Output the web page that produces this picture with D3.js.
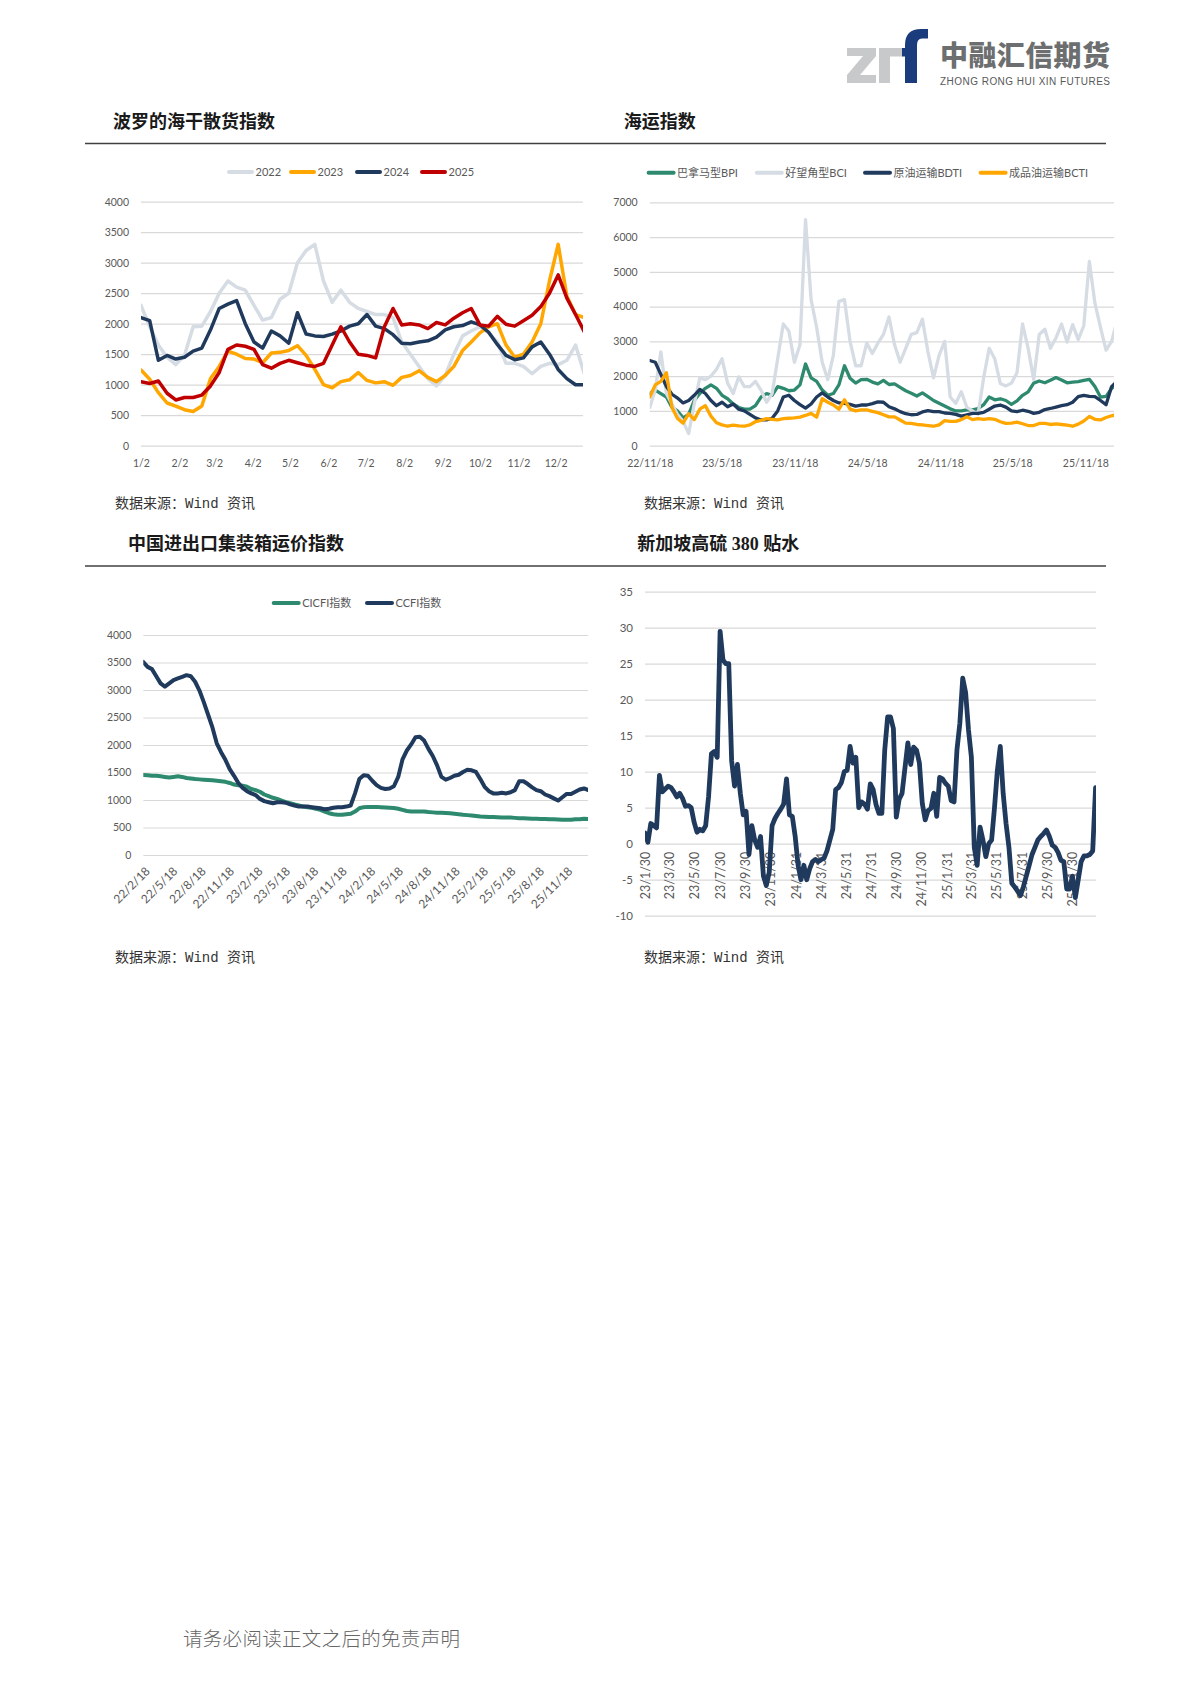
<!DOCTYPE html>
<html>
<head>
<meta charset="utf-8">
<script src="https://cdn.jsdelivr.net/npm/d3@7"></script>
<style>
  html, body { margin: 0; padding: 0; background: #fff; }
  svg { display: block; }
</style>
</head>
<body>
<svg id="page" width="1190" height="1683"></svg>
<script>
// ---------- 波罗的海干散货指数 (weekly readings from 1/2) ----------
var bdiBase = "2023-01-02";
var bdiMonths = ["1/2","2/2","3/2","4/2","5/2","6/2","7/2","8/2","9/2","10/2","11/2","12/2"];
var bdiYears = ["2022","2023","2024","2025"];
var bdi2022 = [2300,1950,1650,1450,1330,1480,1950,1960,2200,2500,2700,2600,2550,2300,2060,2100,2400,2500,3000,3200,
  3300,2700,2350,2550,2350,2250,2200,2150,2150,2100,1700,1500,1300,1100,980,1150,1500,1800,1880,1950,
  1850,1700,1350,1350,1300,1180,1300,1350,1330,1400,1650,1180];
var bdi2023 = [1240,1090,870,700,650,590,560,650,1100,1300,1550,1500,1430,1420,1360,1520,1530,1560,1640,1480,
  1250,1000,950,1050,1080,1200,1070,1030,1050,990,1120,1150,1230,1120,1050,1150,1300,1560,1700,1850,
  1950,2000,1650,1450,1500,1700,2000,2700,3300,2450,2150,2100];
var bdi2024 = [2100,2050,1400,1480,1420,1450,1550,1600,1900,2250,2320,2380,2000,1700,1600,1880,1800,1680,2180,1830,
  1800,1790,1830,1880,1960,2000,2150,1960,1920,1820,1680,1670,1700,1720,1780,1900,1950,1970,2030,1980,
  1860,1660,1480,1410,1440,1620,1700,1500,1250,1100,1000,1000];
var bdi2025 = [1050,1020,1060,860,750,790,790,830,980,1200,1580,1650,1630,1580,1330,1270,1350,1400,1360,1320,
  1300,1350,1650,1950,1700,1500,1480,1440,1950,2250,1980,2000,1980,1920,2020,1980,2090,2180,2250,1980,
  1960,2120,1990,1960,2050,2140,2280,2500,2800,2420,2150,1870];

// ---------- 海运指数 (readings every 14 days from 22/11/18) ----------
var shipBase = "2022-11-18";
var shipTicks = ["22/11/18","23/5/18","23/11/18","24/5/18","24/11/18","25/5/18","25/11/18"];
var shipNames = ["巴拿马型BPI","好望角型BCI","原油运输BDTI","成品油运输BCTI"];
var bpi = [1500,1600,1500,1400,1100,1000,800,900,1300,1500,1650,1750,1650,1450,1350,1200,1100,1050,1050,1150,
  1400,1500,1450,1700,1650,1580,1600,1750,2350,1950,1850,1600,1450,1500,
  1750,2300,1940,1800,1900,1910,1830,1780,1880,1760,1780,1680,1580,1510,1430,1520,1410,1300,1220,1140,
  1060,1000,1000,1030,1030,1065,1180,1400,1320,1350,1300,1190,1290,1450,1550,1800,1860,1810,1880,1960,
  1890,1810,1830,1840,1880,1910,1700,1400,1420,1650,1750];
var bci = [1100,1600,2700,1500,1200,900,700,350,1200,1950,1900,2000,2200,2500,1800,1500,1980,1700,1700,1850,
  1600,1250,1500,2500,3500,3300,2400,2900,6500,4200,3400,2400,1900,2600,
  4150,4200,3000,2300,2300,2950,2650,2950,3200,3700,2900,2400,2800,3200,3250,3640,2700,1950,2600,3000,
  1400,1220,1550,1100,1000,900,1950,2800,2500,1790,1720,1800,2100,3500,2800,1900,3200,3350,2800,3100,
  3500,2980,3480,3050,3450,5300,4100,3400,2750,3000,3600];
var bdti = [2450,2400,2050,1700,1480,1370,1230,1300,1450,1620,1500,1300,1150,1250,1120,1200,1050,1000,900,800,
  740,740,790,1000,1400,1450,1300,1180,1080,1200,1400,1520,1400,1300,
  1230,1220,1190,1140,1170,1170,1210,1260,1250,1120,1060,980,920,890,900,970,1010,980,980,940,
  930,900,850,890,930,930,960,1050,1140,1170,1110,1000,980,1020,990,930,960,1040,1070,1110,
  1150,1180,1250,1410,1450,1420,1410,1300,1180,1700,1850];
var bcti = [1400,1750,1850,2100,1100,780,650,920,750,1050,1150,850,660,600,560,590,570,560,600,690,
  730,780,760,740,780,790,800,820,870,930,820,1350,1250,1170,
  1050,1320,1050,1000,1030,1030,990,950,890,830,830,740,650,640,610,600,580,560,600,720,
  700,700,750,830,750,780,760,780,760,690,640,650,680,630,580,580,640,640,610,630,
  610,590,560,620,710,840,760,740,810,860,900];

// ---------- 中国进出口集装箱运价指数 (readings every 14 days from 22/2/18) ----------
var boxBase = "2022-02-18";
var boxTicks = ["22/2/18","22/5/18","22/8/18","22/11/18","23/2/18","23/5/18","23/8/18","23/11/18",
  "24/2/18","24/5/18","24/8/18","24/11/18","25/2/18","25/5/18","25/8/18","25/11/18"];
var boxNames = ["CICFI指数","CCFI指数"];
var cicfi = [1455,1450,1440,1440,1430,1420,1410,1420,1430,1420,1400,1390,1380,1375,1370,1365,1360,1350,1340,1330,
  1310,1280,1270,1260,1240,1200,1180,1150,1100,1070,1040,1020,990,960,940,920,900,880,870,860,
  840,820,790,760,740,730,730,740,750,790,850,870,875,875,875,870,865,860,855,840,
  820,800,790,790,790,790,780,775,770,770,765,760,750,740,730,725,720,710,700,695,
  690,690,685,680,680,680,675,670,670,665,660,660,655,655,650,650,645,640,640,640,
  650,650,660,655];
var ccfi = [3510,3420,3380,3250,3120,3060,3120,3180,3210,3240,3270,3250,3150,2990,2780,2550,2320,2030,1870,1730,
  1560,1440,1310,1220,1160,1120,1090,1020,980,960,940,960,960,950,920,900,880,880,880,870,
  860,850,830,840,860,870,870,880,900,1120,1380,1450,1440,1350,1270,1220,1200,1210,1250,1420,
  1740,1900,2010,2140,2150,2080,1930,1800,1630,1420,1370,1400,1440,1460,1510,1550,1540,1510,1380,1240,
  1160,1120,1120,1130,1120,1140,1180,1340,1340,1290,1230,1180,1160,1100,1070,1030,990,1050,1110,1110,
  1150,1190,1210,1180];

// ---------- 新加坡高硫 380 贴水 (weekly readings from 23/1/30) ----------
var hsfoBase = "2023-01-30";
var hsfoTicks = ["23/1/30","23/3/30","23/5/30","23/7/30","23/9/30","23/11/30","24/1/31","24/3/31","24/5/31",
  "24/7/31","24/9/30","24/11/30","25/1/31","25/3/31","25/5/31","25/7/31","25/9/30","25/11/30"];
var hsfo = [1.5,0.2,2.8,2.5,2.2,9.5,7.2,7.6,8.0,7.8,
  7.2,6.5,7.0,6.3,5.2,5.3,5.0,3.0,1.6,2.0,
  1.8,2.5,6.5,12.5,12.8,12.0,29.5,25.5,25.0,25.0,
  11.5,8.0,11.0,7.0,4.0,4.5,-1.5,2.5,0.5,-0.5,
  1.0,-4.5,-5.8,-4.0,2.5,3.5,4.2,4.8,5.5,9.0,
  4.0,3.8,1.0,-3.0,-5.0,-3.0,-5.0,-3.5,-2.5,-2.2,
  -2.5,-2.2,-2.0,-1.0,0.5,2.0,7.5,7.8,8.5,10.0,
  10.2,13.5,11.2,12.0,5.0,5.8,5.5,4.8,8.3,7.5,
  5.4,4.2,4.2,13.0,17.6,17.6,16.0,3.7,6.2,7.0,
  10.5,14.0,11.0,13.4,13.0,11.2,5.6,3.3,4.6,4.9,
  7.0,3.8,9.2,9.0,8.4,8.0,6.0,5.8,13.0,16.7,
  23.0,21.0,15.8,12.0,-0.5,-3.0,2.3,0.5,-1.8,0.0,
  0.5,5.0,10.2,13.5,7.0,2.8,-0.5,-5.5,-6.0,-6.6,
  -7.2,-6.0,-4.5,-3.0,-1.5,-0.5,0.5,1.0,1.4,1.9,
  1.0,-0.2,-0.5,-1.2,-2.3,-2.5,-6.3,-6.3,-4.5,-7.5,
  -5.0,-2.5,-1.7,-1.7,-1.5,-1.0,7.8];

// ---------- helpers ----------
var svg = d3.select("#page");
var AXIS_FONT = "Lato, 'Noto Sans CJK SC', sans-serif";
var CJK_FONT = "'Liberation Serif', 'Noto Sans CJK SC', serif";
var GRID = "#d9d9d9", LABEL = "#595959";
var NAVY = "#1f3a5c", ORANGE = "#ffa600", GREY = "#d6dce4", RED = "#c00000", GREEN = "#2e8a6e";
var parseDay = d3.timeParse("%Y-%m-%d");

function fromLabel(s) {
  var p = s.split("/");
  return new Date(2000 + +p[0], +p[1] - 1, +p[2]);
}
function stepDates(base, n, step) {
  var start = parseDay(base), out = [];
  for (var i = 0; i < n; i++) out.push(d3.timeDay.offset(start, i * step));
  return out;
}
function styleAxis(a, size) {
  a.select(".domain").remove();
  a.attr("font-family", AXIS_FONT).attr("font-size", size);
  a.selectAll(".tick line").attr("stroke", GRID).attr("stroke-width", 1.2);
  a.selectAll(".tick text").attr("fill", LABEL);
}
function yGrid(g, x, y, ticks, size) {
  g.append("g")
    .attr("transform", "translate(" + x.range()[0] + ",0)")
    .call(d3.axisLeft(y).tickValues(ticks).tickFormat(function(d) { return String(d); })
      .tickSize(-(x.range()[1] - x.range()[0])).tickPadding(12))
    .call(styleAxis, size || 10.5);
}
function addLines(g, id, x, y, dates, series) {
  g.append("clipPath").attr("id", id).append("rect")
    .attr("x", x.range()[0]).attr("y", y.range()[1] - 15)
    .attr("width", x.range()[1] - x.range()[0])
    .attr("height", y.range()[0] - y.range()[1] + 30);
  series.forEach(function(s) {
    var line = d3.line()
      .x(function(d, i) { return x(dates[i]); })
      .y(function(d) { return y(d); });
    g.append("path").datum(s.values)
      .attr("clip-path", "url(#" + id + ")")
      .attr("fill", "none")
      .attr("stroke", s.color)
      .attr("stroke-width", s.width)
      .attr("stroke-linejoin", "round")
      .attr("stroke-linecap", "round")
      .attr("d", line);
  });
}
function legend(g, items, xs, yy, len) {
  items.forEach(function(s, i) {
    g.append("line")
      .attr("x1", xs[i] + 2).attr("x2", xs[i] + len - 2)
      .attr("y1", yy).attr("y2", yy)
      .attr("stroke", s.color).attr("stroke-width", 4).attr("stroke-linecap", "round");
    g.append("text")
      .attr("x", xs[i] + len + 1.5).attr("y", yy).attr("dy", "0.35em")
      .attr("font-family", AXIS_FONT).attr("font-size", 11).attr("fill", LABEL)
      .text(s.name);
  });
}
function title(txt, x, yy) {
  svg.append("text").attr("x", x).attr("y", yy)
    .attr("font-family", CJK_FONT).attr("font-size", 18).attr("font-weight", 700)
    .attr("fill", "#1a1a1a").text(txt);
}
function rule(x1, x2, yy) {
  svg.append("line").attr("x1", x1).attr("x2", x2).attr("y1", yy).attr("y2", yy)
    .attr("stroke", "#404040").attr("stroke-width", 1.3);
}
function source(x, yy) {
  svg.append("text").attr("x", x).attr("y", yy)
    .attr("font-family", "'Liberation Mono', 'Noto Sans CJK SC', monospace")
    .attr("font-size", 14).attr("fill", "#333").text("数据来源：Wind 资讯");
}

svg.append("rect").attr("width", 1190).attr("height", 1683).attr("fill", "#fff");

// ---------- logo ----------
var logo = svg.append("g");
logo.append("path").attr("fill", "#c8c9cb")
  .attr("d", "M847,48 H876 V56 L860,75 H876 V83 H847 V75 L863,56 H847 Z");
logo.append("path").attr("fill", "#c8c9cb")
  .attr("d", "M879,48 H890 V83 H879 Z M890,48 H902 V56.5 H890 Z");
logo.append("path").attr("fill", "#1a3c7c")
  .attr("d", "M905,83 V45 Q905,29 921,29 H928 V38.5 H922 Q917,38.5 917,45 V83 Z M902,48 H905 V56.5 H902 Z");
logo.append("text").attr("x", 940).attr("y", 65.5)
  .attr("font-family", "'Noto Sans CJK SC', sans-serif").attr("font-size", 28).attr("font-weight", 900)
  .attr("fill", "#6d6e70").attr("textLength", 170).text("中融汇信期货");
logo.append("text").attr("x", 940).attr("y", 85)
  .attr("font-family", "'Liberation Sans', Arial, sans-serif").attr("font-size", 10)
  .attr("fill", "#595959").attr("textLength", 170).text("ZHONG RONG HUI XIN FUTURES");

// ---------- titles, rules, sources ----------
title("波罗的海干散货指数", 113, 127.6);
title("海运指数", 623.7, 127.6);
title("中国进出口集装箱运价指数", 128, 549.7);
title("新加坡高硫 380 贴水", 637.2, 549.7);
rule(85, 599, 143.5);
rule(599, 1106, 143.5);
rule(85, 599, 566);
rule(599, 1106, 566);
source(115, 508.3);
source(644, 508.3);
source(115, 962.3);
source(644, 962.3);

// ---------- chart 1: BDI by year ----------
(function() {
  var g = svg.append("g");
  var x = d3.scaleTime().domain([parseDay("2023-01-02"), parseDay("2023-12-24")]).range([141, 583]);
  var y = d3.scaleLinear().domain([0, 4000]).range([445.7, 201.7]);
  var dates = stepDates(bdiBase, bdi2022.length, 7);
  var monthDates = bdiMonths.map(function(s) {
    var p = s.split("/"); return new Date(2023, +p[0] - 1, +p[1]);
  });
  yGrid(g, x, y, d3.range(0, 4001, 500));
  g.append("g").attr("transform", "translate(0," + y(0) + ")")
    .call(d3.axisBottom(x).tickValues(monthDates)
      .tickFormat(function(d, i) { return bdiMonths[i]; }).tickSize(0).tickPadding(13.5))
    .call(styleAxis, 10.5);
  var series = [
    {name: bdiYears[0], values: bdi2022, color: GREY, width: 3.5},
    {name: bdiYears[1], values: bdi2023, color: ORANGE, width: 3.5},
    {name: bdiYears[2], values: bdi2024, color: NAVY, width: 3.5},
    {name: bdiYears[3], values: bdi2025, color: RED, width: 3.5}
  ];
  addLines(g, "clip1", x, y, dates, series);
  legend(g, series, [227, 289, 355, 420], 172, 27);
})();

// ---------- chart 2: shipping indices ----------
(function() {
  var g = svg.append("g");
  var x = d3.scaleTime().domain([parseDay("2022-11-18"), parseDay("2026-01-29")]).range([649.7, 1114]);
  var y = d3.scaleLinear().domain([0, 7000]).range([445.7, 202.3]);
  var dates = stepDates(shipBase, bpi.length, 14);
  yGrid(g, x, y, d3.range(0, 7001, 1000));
  g.append("g").attr("transform", "translate(0," + y(0) + ")")
    .call(d3.axisBottom(x).tickValues(shipTicks.map(fromLabel))
      .tickFormat(function(d, i) { return shipTicks[i]; }).tickSize(0).tickPadding(13.5))
    .call(styleAxis, 10.5);
  var series = [
    {name: shipNames[0], values: bpi, color: GREEN, width: 3.3},
    {name: shipNames[1], values: bci, color: GREY, width: 3.3},
    {name: shipNames[2], values: bdti, color: NAVY, width: 3.3},
    {name: shipNames[3], values: bcti, color: ORANGE, width: 3.3}
  ];
  addLines(g, "clip2", x, y, dates, series);
  legend(g, series, [646.6, 754.8, 863, 978.6], 172.7, 29);
})();

// ---------- chart 3: container freight ----------
(function() {
  var g = svg.append("g");
  var x = d3.scaleTime().domain([parseDay("2022-02-18"), parseDay("2026-01-29")]).range([143.3, 588]);
  var y = d3.scaleLinear().domain([0, 4000]).range([855, 635]);
  var dates = stepDates(boxBase, ccfi.length, 14);
  yGrid(g, x, y, d3.range(0, 4001, 500));
  g.append("g").attr("transform", "translate(0," + y(0) + ")")
    .call(d3.axisBottom(x).tickValues(boxTicks.map(fromLabel))
      .tickFormat(function(d, i) { return boxTicks[i]; }).tickSize(0))
    .call(styleAxis, 12)
    .selectAll(".tick text")
      .attr("x", 0).attr("y", 0).attr("dy", "0.35em")
      .attr("text-anchor", "end")
      .attr("transform", "translate(4,14) rotate(-45)");
  var series = [
    {name: boxNames[0], values: cicfi, color: GREEN, width: 4},
    {name: boxNames[1], values: ccfi, color: NAVY, width: 4}
  ];
  addLines(g, "clip3", x, y, dates, series);
  legend(g, series, [271.7, 365], 603, 29);
})();

// ---------- chart 4: Singapore HSFO 380 discount ----------
(function() {
  var g = svg.append("g");
  var x = d3.scaleTime().domain([parseDay("2023-01-30"), parseDay("2026-01-27")]).range([645, 1096]);
  var y = d3.scaleLinear().domain([-10, 35]).range([915.7, 591.7]);
  var dates = stepDates(hsfoBase, hsfo.length, 7);
  yGrid(g, x, y, d3.range(-10, 36, 5), 11.5);
  g.append("g").attr("transform", "translate(0," + y(0) + ")")
    .call(d3.axisBottom(x).tickValues(hsfoTicks.map(fromLabel))
      .tickFormat(function(d, i) { return hsfoTicks[i]; }).tickSize(0))
    .call(styleAxis, 12.5)
    .selectAll(".tick text")
      .attr("x", 0).attr("y", 0).attr("dy", "0.35em")
      .attr("text-anchor", "end")
      .attr("transform", "translate(0,8) rotate(-90)");
  addLines(g, "clip4", x, y, dates, [{values: hsfo, color: NAVY, width: 4.8}]);
})();

// ---------- footer ----------
svg.append("text").attr("x", 183).attr("y", 1646)
  .attr("font-family", "'Noto Sans CJK SC', sans-serif").attr("font-size", 19.5).attr("font-weight", 300)
  .attr("fill", "#666").attr("textLength", 277).text("请务必阅读正文之后的免责声明");
</script>
</body>
</html>
